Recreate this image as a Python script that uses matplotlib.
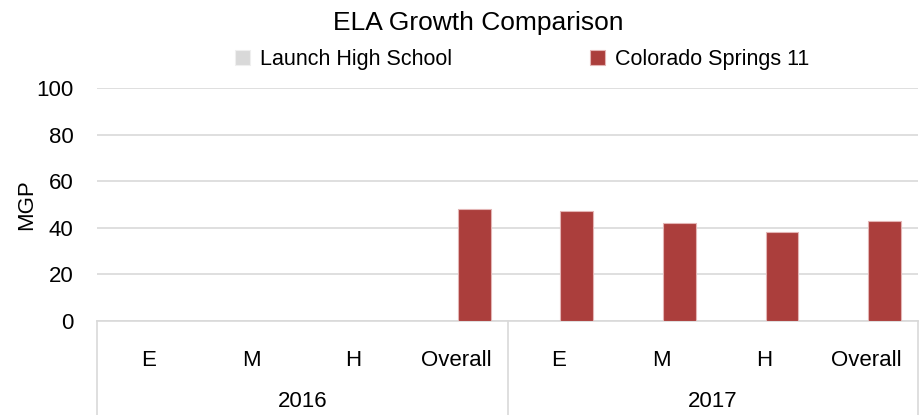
import numpy as np
import matplotlib
matplotlib.use('Agg')
import matplotlib.pyplot as plt

plt.rcParams['font.family'] = ['Liberation Sans', 'DejaVu Sans']

# 数据
years = ['2016', '2017']
levels = ['E', 'M', 'H', 'Overall']
series_names = ['Launch High School', 'Colorado Springs 11']
launch_hs = [np.nan, np.nan, np.nan, np.nan, np.nan, np.nan, np.nan, np.nan]
district = [np.nan, np.nan, np.nan, 48, 47, 42, 38, 43]

colors = ['#D9D9D9', '#AB3E3C']
grid_color = '#D9D9D9'

fig = plt.figure(figsize=(9.22, 4.15), dpi=100)
ax = fig.add_axes([97 / 922, 1 - 321 / 415, (918 - 97) / 922, (321 - 88) / 415])

n = len(years) * len(levels)
x = np.arange(n)
width = 0.32
off = 0.175
ax.bar(x - off, launch_hs, width, color=colors[0], edgecolor='#EFEFEF', linewidth=0.8,
       label=series_names[0], zorder=3)
ax.bar(x + off, district, width, color=colors[1], edgecolor='#E3B5B5', linewidth=0.8,
       label=series_names[1], zorder=3)

ax.set_xlim(-0.5, n - 0.5)
ax.set_ylim(0, 100)
ax.set_yticks(range(0, 101, 20))
ax.yaxis.grid(True, color=grid_color, linewidth=1.2, zorder=0)
ax.tick_params(axis='y', length=0, pad=17, labelsize=16)
ax.set_ylabel('MGP', fontsize=16, labelpad=-1)

ax.set_xticks(x)
ax.set_xticklabels(levels * len(years), fontsize=16)
ax.tick_params(axis='x', length=0, pad=21)

for s in ['top', 'right', 'left']:
    ax.spines[s].set_visible(False)
ax.spines['bottom'].set_color(grid_color)
ax.spines['bottom'].set_linewidth(1.2)

# 分组坐标轴（年份）
trans = ax.get_xaxis_transform()
depth = -(415 - 321) / 233
for b in [-0.5, 3.5, 7.5]:
    ax.plot([b, b], [0, depth], transform=trans, color=grid_color, linewidth=1.2, clip_on=False)
for i, yr in enumerate(years):
    cx = i * len(levels) + (len(levels) - 1) / 2
    ax.text(cx, -(401 - 321) / 233, yr, transform=trans, ha='center', va='center', fontsize=16)

fig.text(478 / 922, 1 - 23 / 415, 'ELA Growth Comparison', ha='center', va='center', fontsize=19)
fig.legend(loc='center', bbox_to_anchor=(522 / 922, 1 - 60 / 415), ncol=2, frameon=False,
           fontsize=15.5, handlelength=0.7, handleheight=0.7, handletextpad=0.45, columnspacing=6.4)

plt.savefig('out.png', dpi=100)
